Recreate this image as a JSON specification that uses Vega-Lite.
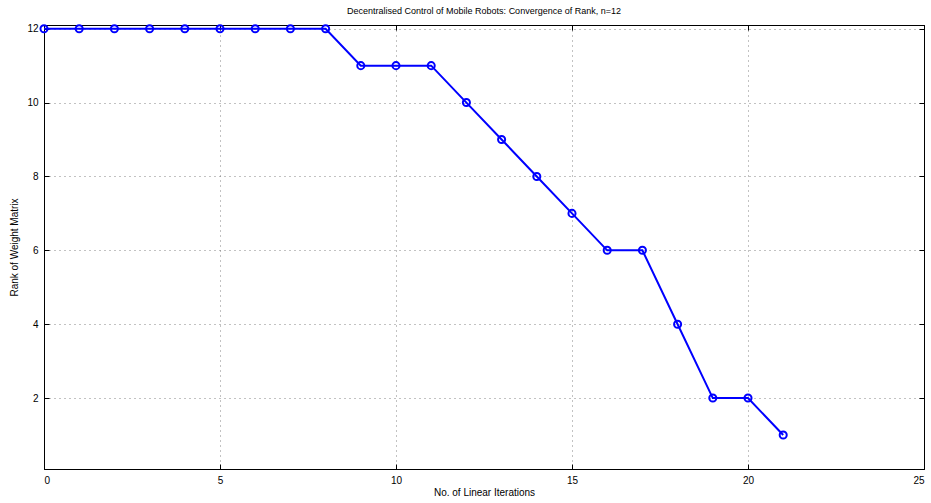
{
  "$schema": "https://vega.github.io/schema/vega-lite/v6.json",
  "width": 880,
  "height": 444,
  "autosize": {"type": "none"},
  "padding": {"left": 44, "top": 25, "right": 7, "bottom": 34},
  "background": "white",
  "config": {
    "view": {"stroke": "black", "strokeWidth": 1},
    "font": "Liberation Sans",
    "axis": {
      "domainColor": "black", "tickColor": "black", "labelColor": "black", "titleColor": "black",
      "labelFont": "Liberation Sans", "titleFont": "Liberation Sans",
      "labelFontSize": 10, "titleFontSize": 10, "titleFontWeight": "normal",
      "gridColor": "#666", "gridDash": [1, 4], "gridOpacity": 0.8,
      "tickSize": -5, "labelPadding": 10
    }
  },
  "title": {
    "text": "Decentralised Control of Mobile Robots: Convergence of Rank, n=12",
    "font": "Liberation Sans", "fontSize": 9, "fontWeight": "normal", "color": "black",
    "offset": 5, "anchor": "middle"
  },
  "data": {
    "values": [
      {"iter": 0, "rank": 12}, {"iter": 1, "rank": 12}, {"iter": 2, "rank": 12},
      {"iter": 3, "rank": 12}, {"iter": 4, "rank": 12}, {"iter": 5, "rank": 12},
      {"iter": 6, "rank": 12}, {"iter": 7, "rank": 12}, {"iter": 8, "rank": 12},
      {"iter": 9, "rank": 11}, {"iter": 10, "rank": 11}, {"iter": 11, "rank": 11},
      {"iter": 12, "rank": 10}, {"iter": 13, "rank": 9}, {"iter": 14, "rank": 8},
      {"iter": 15, "rank": 7}, {"iter": 16, "rank": 6}, {"iter": 17, "rank": 6},
      {"iter": 18, "rank": 4}, {"iter": 19, "rank": 2}, {"iter": 20, "rank": 2},
      {"iter": 21, "rank": 1}
    ]
  },
  "encoding": {
    "x": {"field": "iter", "type": "quantitative", "scale": {"domain": [0, 25], "nice": false, "zero": false}},
    "y": {"field": "rank", "type": "quantitative", "scale": {"domain": [0.08, 12.1], "nice": false, "zero": false}}
  },
  "layer": [
    {
      "mark": {"type": "line", "color": "#0000ff", "strokeWidth": 2},
      "encoding": {
        "x": {"field": "iter", "type": "quantitative", "axis": {"orient": "bottom", "title": "No. of Linear Iterations", "values": [0, 5, 10, 15, 20, 25], "grid": true, "titlePadding": 2, "labelPadding": 11}},
        "y": {"field": "rank", "type": "quantitative", "axis": {"orient": "left", "title": "Rank of Weight Matrix", "values": [2, 4, 6, 8, 10, 12], "grid": true, "titlePadding": 7, "labelPadding": 11}}
      }
    },
    {
      "mark": {"type": "point", "shape": "circle", "filled": false, "color": "#0000ff", "strokeWidth": 2, "size": 50, "opacity": 1},
      "encoding": {
        "x": {"field": "iter", "type": "quantitative", "axis": {"orient": "top", "title": null, "labels": false, "values": [0, 5, 10, 15, 20, 25], "grid": false}},
        "y": {"field": "rank", "type": "quantitative", "axis": {"orient": "right", "title": null, "labels": false, "values": [2, 4, 6, 8, 10, 12], "grid": false}}
      }
    }
  ],
  "resolve": {"axis": {"x": "independent", "y": "independent"}}
}
